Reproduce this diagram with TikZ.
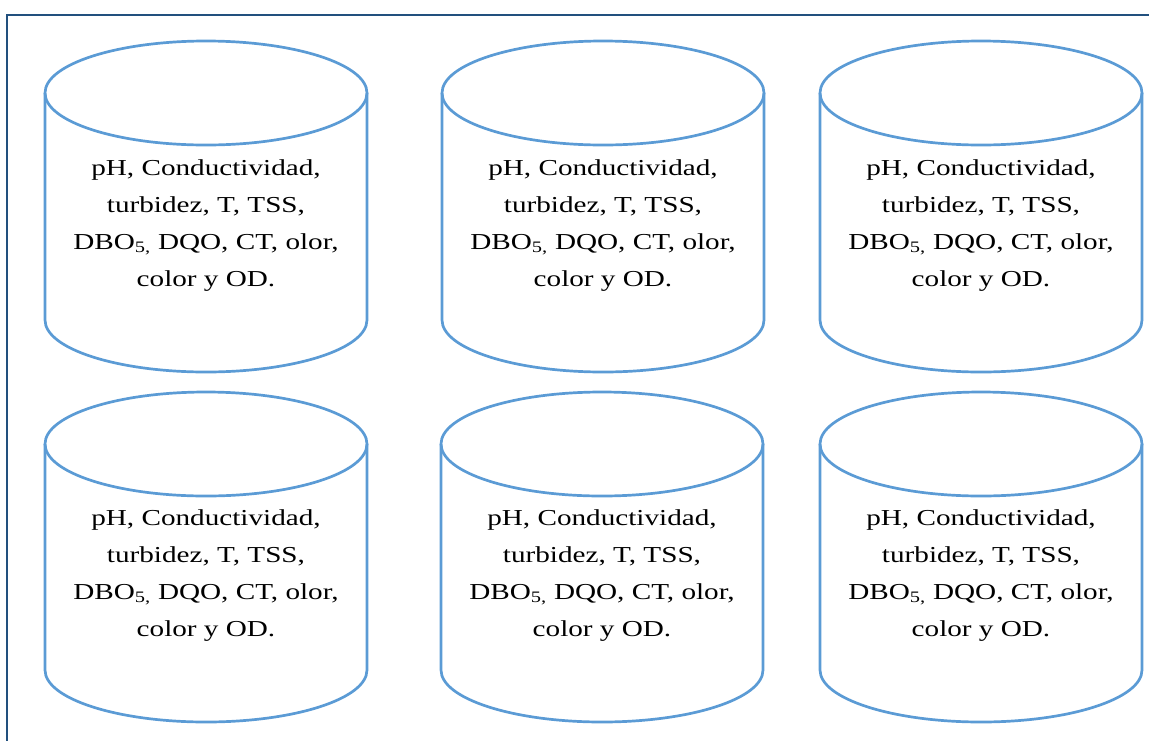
\documentclass[tikz,border=0pt]{standalone}
\usepackage{fontspec}
\setmainfont[FakeStretch=1.28]{Liberation Serif}
\definecolor{cylblue}{HTML}{5B9BD5}
\definecolor{framblue}{HTML}{22507E}
\tikzset{
  cylline/.style={draw=cylblue, line width=2.7pt},
  frameline/.style={draw=framblue, line width=2.5pt},
  cyltext/.style={align=center, inner sep=0pt, text=black,
    font=\fontsize{22.8pt}{37.3pt}\selectfont}
}
\begin{document}
\begin{tikzpicture}[x=1pt,y=-1pt]
\useasboundingbox (0,0) rectangle (1149,740);
\draw[frameline] (1155,15) -- (7,15) -- (7,748);
\foreach \cx/\ty/\by/\txy [count=\i] in {206/93/320/225.5, 603/93/320/225.5, 981/93/320/225.5, 206/444/670/575.5, 602/444/670/575.5, 981/444/670/575.5}{
  \draw[cylline] (\cx-161,\ty) -- (\cx-161,\by)
    arc[start angle=180, end angle=0, x radius=161, y radius=52]
    -- (\cx+161,\ty);
  \draw[cylline] (\cx,\ty) ellipse[x radius=161, y radius=52];
  \node[cyltext] (t\i) at (\cx,\txy) {pH, Conductividad,\\turbidez, T, TSS,\\DBO\textsubscript{5,} DQO, CT, olor,\\color y OD.};
}
\end{tikzpicture}
\end{document}
